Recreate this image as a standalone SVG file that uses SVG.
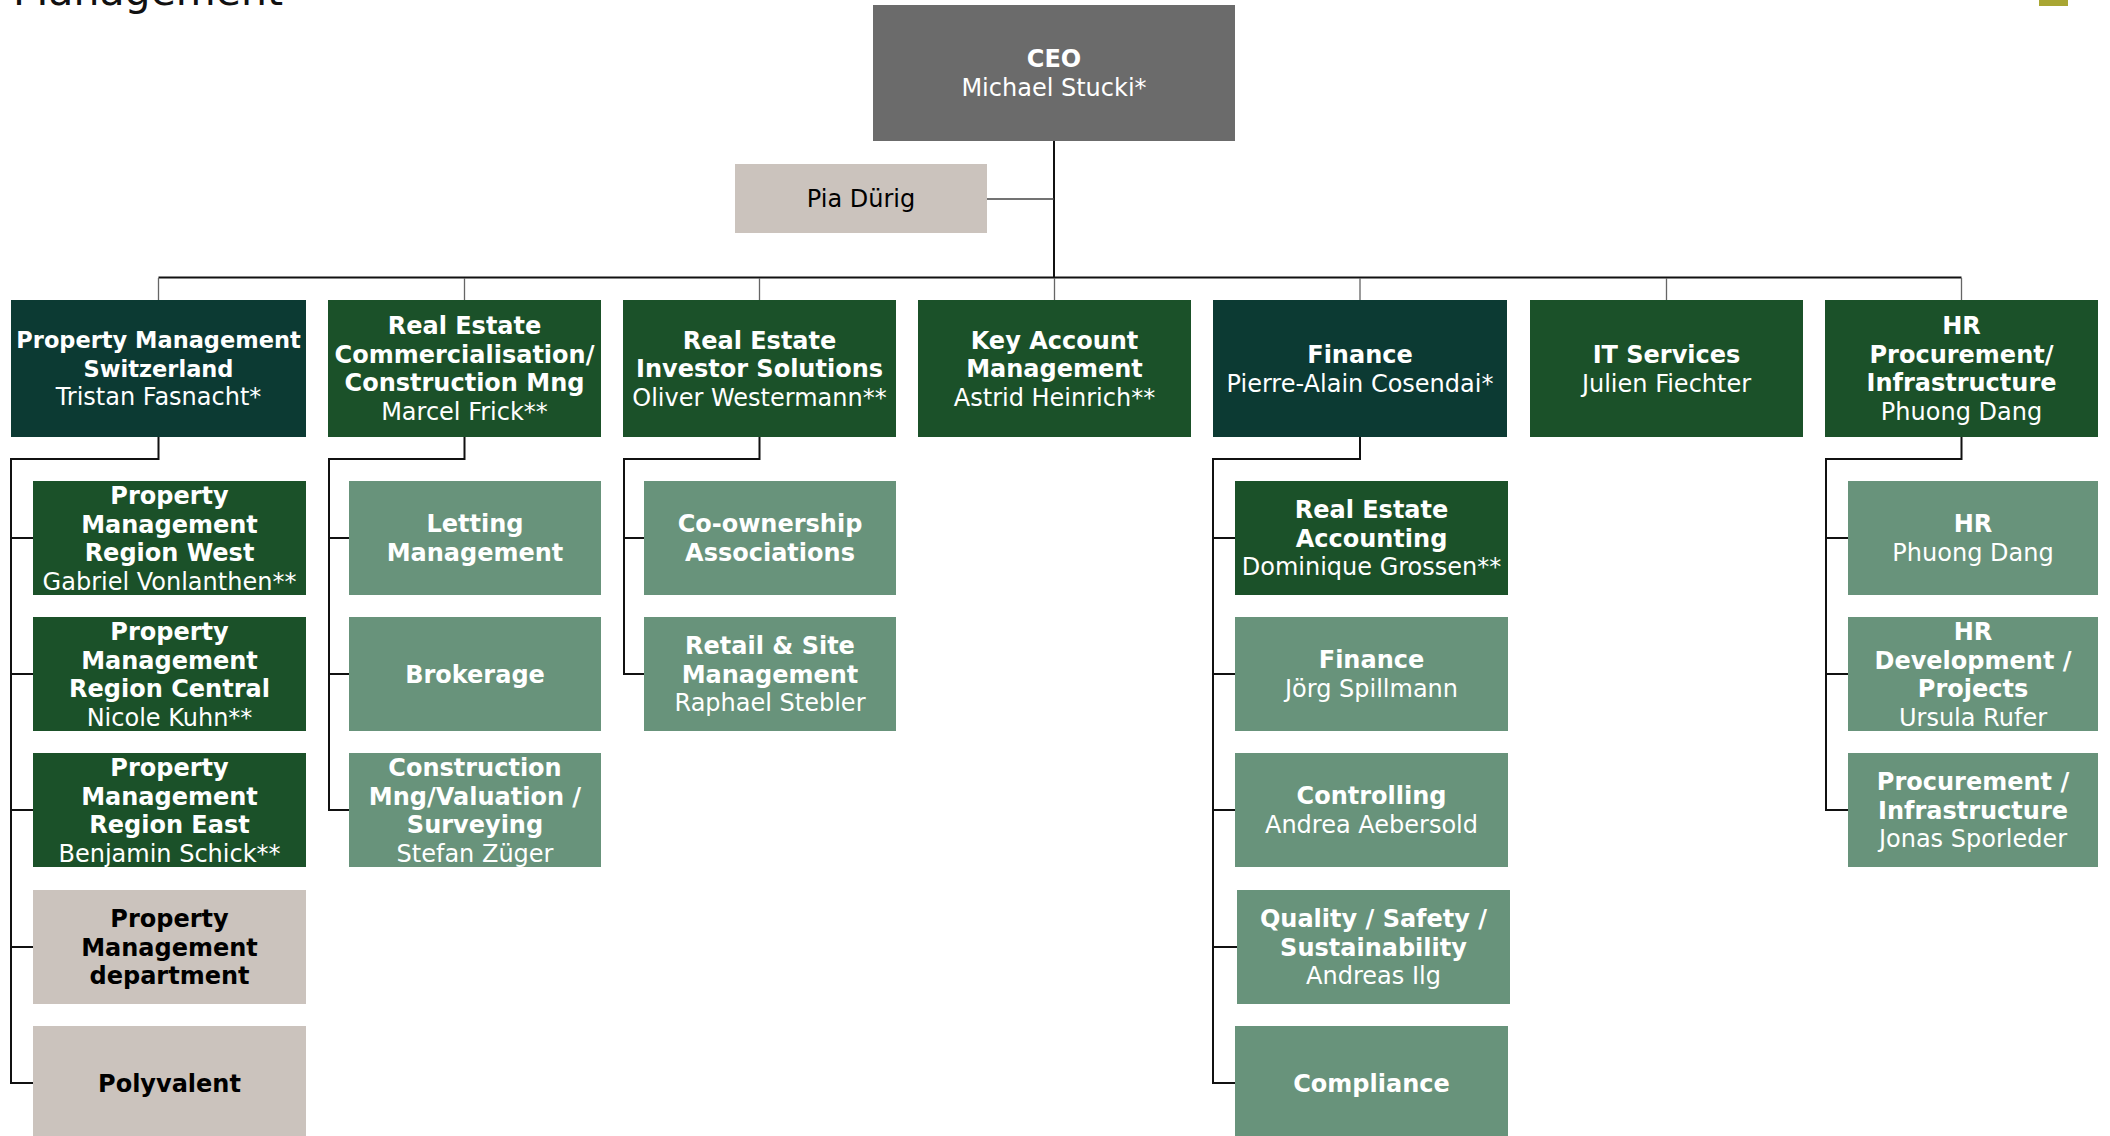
<svg xmlns="http://www.w3.org/2000/svg" width="2110" height="1136" viewBox="0 0 2110 1136">
<style>
.dk{fill:#0c3a33}.gr{fill:#1b5129}.lg{fill:#68937b}.bg{fill:#cbc3bd}.ceo{fill:#6b6b6b}
text{font-family:"DejaVu Sans",Verdana,sans-serif;font-size:24px;text-anchor:middle;fill:#fff}
.b{font-weight:bold}
.k{fill:#000}
.s22{font-size:22.5px}
.main{fill:none;stroke:#111;stroke-width:2}
.stub{fill:none;stroke:#666;stroke-width:1.3}
</style>
<rect width="2110" height="1136" fill="#fff"/>
<text x="13" y="5" style="font-size:41px;text-anchor:start;fill:#111">Management</text>
<rect x="2039" y="0" width="29" height="6" fill="#a9a633"/>

<g id="connectors">
<path class="main" d="M1054 141V278"/>
<path class="main" style="stroke:#444;stroke-width:1.5" d="M987 199H1054"/>
<path class="main" d="M158.5 277.5H1961.5"/>
<path class="stub" d="M158.5 278V300M464.5 278V300M759.5 278V300M1054.5 278V300M1360 278V300M1666.5 278V300M1961.5 278V300"/>
<path class="main" d="M158.5 437V459H11V1083H33M11 538H33M11 674H33M11 810H33M11 947H33"/>
<path class="main" d="M464.5 437V459H329V810H349M329 538H349M329 674H349"/>
<path class="main" d="M759.5 437V459H624V674H644M624 538H644"/>
<path class="main" d="M1360 437V459H1213V1083H1235M1213 538H1235M1213 674H1235M1213 810H1235M1213 947H1237"/>
<path class="main" d="M1961.5 437V459H1826V810H1848M1826 538H1848M1826 674H1848"/>
</g>

<g id="ceo"><rect class="ceo" x="873" y="5" width="362" height="136"/>
<text class="b" x="1054" y="67">CEO</text><text x="1054" y="96">Michael Stucki*</text></g>
<g id="pia"><rect class="bg" x="735" y="164" width="252" height="69"/>
<text class="k" x="861" y="207">Pia Dürig</text></g>

<g id="pm-switzerland"><rect class="dk" x="11" y="300" width="295" height="137"/>
<text class="b s22" x="158.5" y="348">Property Management</text><text class="b s22" x="158.5" y="376.5">Switzerland</text><text x="158.5" y="405">Tristan Fasnacht*</text></g>
<g id="re-commercialisation"><rect class="gr" x="328" y="300" width="273" height="137"/>
<text class="b" x="464.5" y="334">Real Estate</text><text class="b" x="464.5" y="362.5">Commercialisation/</text><text class="b" x="464.5" y="391">Construction Mng</text><text x="464.5" y="419.5">Marcel Frick**</text></g>
<g id="re-investor"><rect class="gr" x="623" y="300" width="273" height="137"/>
<text class="b" x="759.5" y="348.5">Real Estate</text><text class="b" x="759.5" y="377">Investor Solutions</text><text x="759.5" y="405.5">Oliver Westermann**</text></g>
<g id="key-account"><rect class="gr" x="918" y="300" width="273" height="137"/>
<text class="b" x="1054.5" y="348.5">Key Account</text><text class="b" x="1054.5" y="377">Management</text><text x="1054.5" y="405.5">Astrid Heinrich**</text></g>
<g id="finance"><rect class="dk" x="1213" y="300" width="294" height="137"/>
<text class="b" x="1360" y="363">Finance</text><text x="1360" y="391.5">Pierre-Alain Cosendai*</text></g>
<g id="it-services"><rect class="gr" x="1530" y="300" width="273" height="137"/>
<text class="b" x="1666.5" y="363">IT Services</text><text x="1666.5" y="391.5">Julien Fiechter</text></g>
<g id="hr-procurement"><rect class="gr" x="1825" y="300" width="273" height="137"/>
<text class="b" x="1961.5" y="334">HR</text><text class="b" x="1961.5" y="362.5">Procurement/</text><text class="b" x="1961.5" y="391">Infrastructure</text><text x="1961.5" y="419.5">Phuong Dang</text></g>

<g id="pm-west"><rect class="gr" x="33" y="481" width="273" height="114"/>
<text class="b" x="169.5" y="504">Property</text><text class="b" x="169.5" y="532.5">Management</text><text class="b" x="169.5" y="561">Region West</text><text x="169.5" y="589.5">Gabriel Vonlanthen**</text></g>
<g id="pm-central"><rect class="gr" x="33" y="617" width="273" height="114"/>
<text class="b" x="169.5" y="640">Property</text><text class="b" x="169.5" y="668.5">Management</text><text class="b" x="169.5" y="697">Region Central</text><text x="169.5" y="725.5">Nicole Kuhn**</text></g>
<g id="pm-east"><rect class="gr" x="33" y="753" width="273" height="114"/>
<text class="b" x="169.5" y="776">Property</text><text class="b" x="169.5" y="804.5">Management</text><text class="b" x="169.5" y="833">Region East</text><text x="169.5" y="861.5">Benjamin Schick**</text></g>
<g id="pm-department"><rect class="bg" x="33" y="890" width="273" height="114"/>
<text class="b k" x="169.5" y="927">Property</text><text class="b k" x="169.5" y="955.5">Management</text><text class="b k" x="169.5" y="984">department</text></g>
<g id="polyvalent"><rect class="bg" x="33" y="1026" width="273" height="114"/>
<text class="b k" x="169.5" y="1091.5">Polyvalent</text></g>

<g id="letting"><rect class="lg" x="349" y="481" width="252" height="114"/>
<text class="b" x="475" y="532">Letting</text><text class="b" x="475" y="560.5">Management</text></g>
<g id="brokerage"><rect class="lg" x="349" y="617" width="252" height="114"/>
<text class="b" x="475" y="682.5">Brokerage</text></g>
<g id="construction"><rect class="lg" x="349" y="753" width="252" height="114"/>
<text class="b" x="475" y="776">Construction</text><text class="b" x="475" y="804.5">Mng/Valuation /</text><text class="b" x="475" y="833">Surveying</text><text x="475" y="861.5">Stefan Züger</text></g>

<g id="co-ownership"><rect class="lg" x="644" y="481" width="252" height="114"/>
<text class="b" x="770" y="532">Co-ownership</text><text class="b" x="770" y="560.5">Associations</text></g>
<g id="retail-site"><rect class="lg" x="644" y="617" width="252" height="114"/>
<text class="b" x="770" y="654">Retail &amp; Site</text><text class="b" x="770" y="682.5">Management</text><text x="770" y="711">Raphael Stebler</text></g>

<g id="re-accounting"><rect class="gr" x="1235" y="481" width="273" height="114"/>
<text class="b" x="1371.5" y="518">Real Estate</text><text class="b" x="1371.5" y="546.5">Accounting</text><text x="1371.5" y="575">Dominique Grossen**</text></g>
<g id="finance-sub"><rect class="lg" x="1235" y="617" width="273" height="114"/>
<text class="b" x="1371.5" y="668">Finance</text><text x="1371.5" y="696.5">Jörg Spillmann</text></g>
<g id="controlling"><rect class="lg" x="1235" y="753" width="273" height="114"/>
<text class="b" x="1371.5" y="804">Controlling</text><text x="1371.5" y="832.5">Andrea Aebersold</text></g>
<g id="quality"><rect class="lg" x="1237" y="890" width="273" height="114"/>
<text class="b" x="1373.5" y="927">Quality / Safety /</text><text class="b" x="1373.5" y="955.5">Sustainability</text><text x="1373.5" y="984">Andreas Ilg</text></g>
<g id="compliance"><rect class="lg" x="1235" y="1026" width="273" height="114"/>
<text class="b" x="1371.5" y="1091.5">Compliance</text></g>

<g id="hr"><rect class="lg" x="1848" y="481" width="250" height="114"/>
<text class="b" x="1973" y="532">HR</text><text x="1973" y="560.5">Phuong Dang</text></g>
<g id="hr-development"><rect class="lg" x="1848" y="617" width="250" height="114"/>
<text class="b" x="1973" y="640">HR</text><text class="b" x="1973" y="668.5">Development /</text><text class="b" x="1973" y="697">Projects</text><text x="1973" y="725.5">Ursula Rufer</text></g>
<g id="procurement"><rect class="lg" x="1848" y="753" width="250" height="114"/>
<text class="b" x="1973" y="790">Procurement /</text><text class="b" x="1973" y="818.5">Infrastructure</text><text x="1973" y="847">Jonas Sporleder</text></g>
</svg>
